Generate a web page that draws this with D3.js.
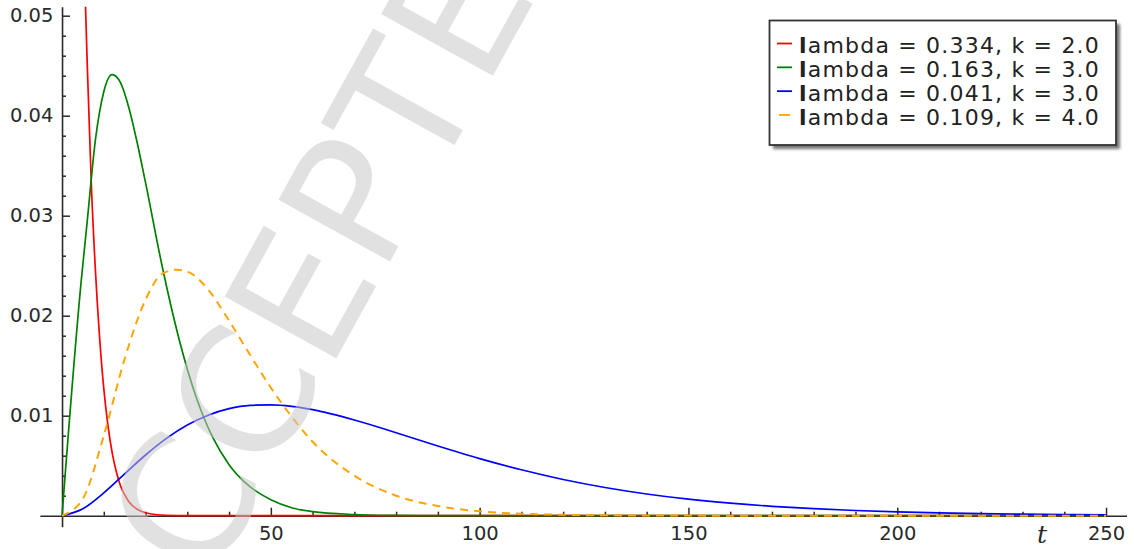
<!DOCTYPE html>
<html>
<head>
<meta charset="utf-8">
<script src="https://cdn.jsdelivr.net/npm/d3@7"></script>
<style>
  html, body { margin: 0; padding: 0; background: #ffffff; }
  svg { display: block; }
</style>
</head>
<body>
<svg id="chart" width="1134" height="549"></svg>
<script>
// ---- data: [t, density] ----
const redPoints = [[5,0.0595],[6,0.0457],[7,0.0333],[8,0.0245],[9,0.0178],[10,0.0127],[11,0.0090],[12,0.0063],[13,0.0044],[14,0.0030],[15,0.0021],[16,0.0014],[18,0.00065],[20,0.0003],[25,0.00004],[30,0],[250,0]];
const greenPoints = [[0,0],[4.6,0.0235],[6,0.0293],[8,0.0376],[10,0.0424],[12,0.0441],[14,0.0433],[16,0.0408],[18,0.0373],[20,0.0333],[24,0.0249],[28,0.0177],[32,0.0120],[36,0.0079],[40,0.0051],[45,0.0029],[50,0.0016],[55,0.0008],[60,0.0004],[70,0.00012],[80,0.00003],[90,0],[250,0]];
const bluePoints = [[0,0],[5,0.0007],[10,0.00229],[15,0.00419],[20,0.00607],[25,0.00773],[30,0.00907],[35,0.01005],[40,0.0107],[45,0.01103],[50,0.01109],[55,0.01094],[60,0.0106],[70,0.00957],[80,0.0083],[90,0.00697],[100,0.00571],[110,0.00459],[120,0.00362],[130,0.00282],[140,0.00217],[150,0.00165],[160,0.00125],[170,0.00094],[180,0.0007],[190,0.00052],[200,0.00038],[210,0.00028],[220,0.0002],[230,0.00015],[240,0.00011],[250,0.00008]];
const orangePoints = [[0,0],[5,0.0017],[10,0.0080],[15,0.0157],[20,0.0216],[24,0.0242],[27.5,0.0246],[31,0.0242],[35,0.0226],[40,0.0195],[45,0.0161],[50,0.0128],[55,0.0099],[60,0.0074],[70,0.0040],[80,0.002],[90,0.00096],[100,0.00044],[110,0.00019],[120,0.00009],[130,0.00004],[150,0.00001],[170,0],[250,0]];

const seriesLabels = ["ambda = 0.334, k = 2.0","ambda = 0.163, k = 3.0","ambda = 0.041, k = 3.0","ambda = 0.109, k = 4.0"];
const seriesColors = ["#ff0000","#008000","#0000ff","#ffa500"];
const seriesDashed = [false,false,false,true];

const xMajorTicks = [50,100,150,200,250];
const xMinorTicks = [10,20,30,40,60,70,80,90,110,120,130,140,160,170,180,190,210,220,230,240];
const yMajorTicks = [0.01,0.02,0.03,0.04,0.05];
const yMinorTicks = [0.002,0.004,0.006,0.008,0.012,0.014,0.016,0.018,0.022,0.024,0.026,0.028,0.032,0.034,0.036,0.038,0.042,0.044,0.046,0.048];
const xAxisLabel = "t";
const watermarkText = "ACCEPTED";

// ---- layout ----
const svg = d3.select("#chart");
const x = d3.scaleLinear().domain([-5.3, 254.9]).range([39.9, 1126.5]);
const y = d3.scaleLinear().domain([-0.0011, 0.0509]).range([526.7, 6.7]);
const axisColor = "#2b2b2b";
const font = "'DejaVu Sans', Verdana, sans-serif";

const defs = svg.append("defs");
defs.append("clipPath").attr("id","plotclip").append("rect")
  .attr("x", x.range()[0]).attr("y", y.range()[1])
  .attr("width", x.range()[1]-x.range()[0]).attr("height", y.range()[0]-y.range()[1]);
const blur = defs.append("filter").attr("id","shadowblur").attr("x","-10%").attr("y","-10%").attr("width","120%").attr("height","120%");
blur.append("feGaussianBlur").attr("stdDeviation", 1.6);

// ---- axes ----
function styleAxis(g){
  g.attr("color", axisColor).attr("font-family", font).attr("font-size", 19.5);
  g.selectAll("line").attr("stroke-width", 1.5);
  g.selectAll("text").attr("fill", "#2a2a2a");
}
const xAxisG = svg.append("g").attr("transform", `translate(0,${y(0)})`)
  .call(d3.axisBottom(x).tickValues(xMajorTicks).tickFormat(d3.format("d"))
        .tickSizeInner(-8).tickSizeOuter(0).tickPadding(10.5));
xAxisG.select(".domain").attr("stroke-width", 1.6);
styleAxis(xAxisG);
const xMinorG = svg.append("g").attr("transform", `translate(0,${y(0)})`)
  .call(d3.axisBottom(x).tickValues(xMinorTicks).tickFormat("").tickSizeInner(-4).tickSizeOuter(0));
xMinorG.select(".domain").remove();
styleAxis(xMinorG);

const yAxisG = svg.append("g").attr("transform", `translate(${x(0)},0)`)
  .call(d3.axisLeft(y).tickValues(yMajorTicks).tickFormat(d3.format(".2f"))
        .tickSizeInner(-8).tickSizeOuter(0).tickPadding(8.7));
yAxisG.select(".domain").attr("stroke-width", 1.6);
styleAxis(yAxisG);
const yMinorG = svg.append("g").attr("transform", `translate(${x(0)},0)`)
  .call(d3.axisLeft(y).tickValues(yMinorTicks).tickFormat("").tickSizeInner(-4).tickSizeOuter(0));
yMinorG.select(".domain").remove();
styleAxis(yMinorG);

svg.append("text").attr("x", 1042).attr("y", 543)
  .attr("text-anchor","middle").attr("font-family","'DejaVu Serif', serif")
  .attr("font-style","italic").attr("font-size", 25).attr("fill","#2a2a2a")
  .text(xAxisLabel);

// ---- curves ----
const allSeries = [redPoints, greenPoints, bluePoints, orangePoints];
const line = d3.line().x(d => x(d[0])).y(d => y(d[1])).curve(d3.curveMonotoneX);
const curves = svg.append("g").attr("clip-path","url(#plotclip)");
curves.selectAll("path").data(allSeries).join("path")
  .attr("d", line)
  .attr("fill","none")
  .attr("stroke", (d,i) => seriesColors[i])
  .attr("stroke-width", (d,i) => seriesDashed[i] ? 2 : 1.7)
  .attr("stroke-linejoin","round")
  .attr("stroke-dasharray", (d,i) => seriesDashed[i] ? "8,6" : null);

// ---- legend ----
const lg = svg.append("g");
lg.append("rect").attr("x", 773).attr("y", 24).attr("width", 347).attr("height", 125)
  .attr("fill", "#777").attr("filter","url(#shadowblur)");
lg.append("rect").attr("x", 769.5).attr("y", 20.5).attr("width", 346.5).attr("height", 124.5)
  .attr("fill", "#ffffff").attr("stroke", "#333").attr("stroke-width", 1.8);
const rowY = d3.scaleLinear().domain([0, 3]).range([53, 124.5]);
const items = lg.selectAll("g.item").data(seriesLabels).join("g").attr("class","item");
items.append("line")
  .attr("x1", (d,i) => seriesDashed[i] ? 779 : 777)
  .attr("x2", (d,i) => seriesDashed[i] ? 790 : 792)
  .attr("y1", (d,i) => rowY(i) - 9.5).attr("y2", (d,i) => rowY(i) - 9.5)
  .attr("stroke", (d,i) => seriesColors[i]).attr("stroke-width", 1.8);
const txt = items.append("text")
  .attr("x", 799).attr("y", (d,i) => rowY(i))
  .attr("font-family", font).attr("font-size", 22).attr("letter-spacing", 1.2)
  .attr("fill", "#222");
txt.append("tspan").attr("font-weight","bold").text("l");
txt.append("tspan").text(d => d);

// ---- watermark ----
svg.append("text")
  .attr("transform","translate(153,689) rotate(-61)")
  .attr("font-family", font).attr("font-size", 175)
  .attr("fill", "#c8c8c8").attr("fill-opacity", 0.55)
  .text(watermarkText);
</script>
</body>
</html>
